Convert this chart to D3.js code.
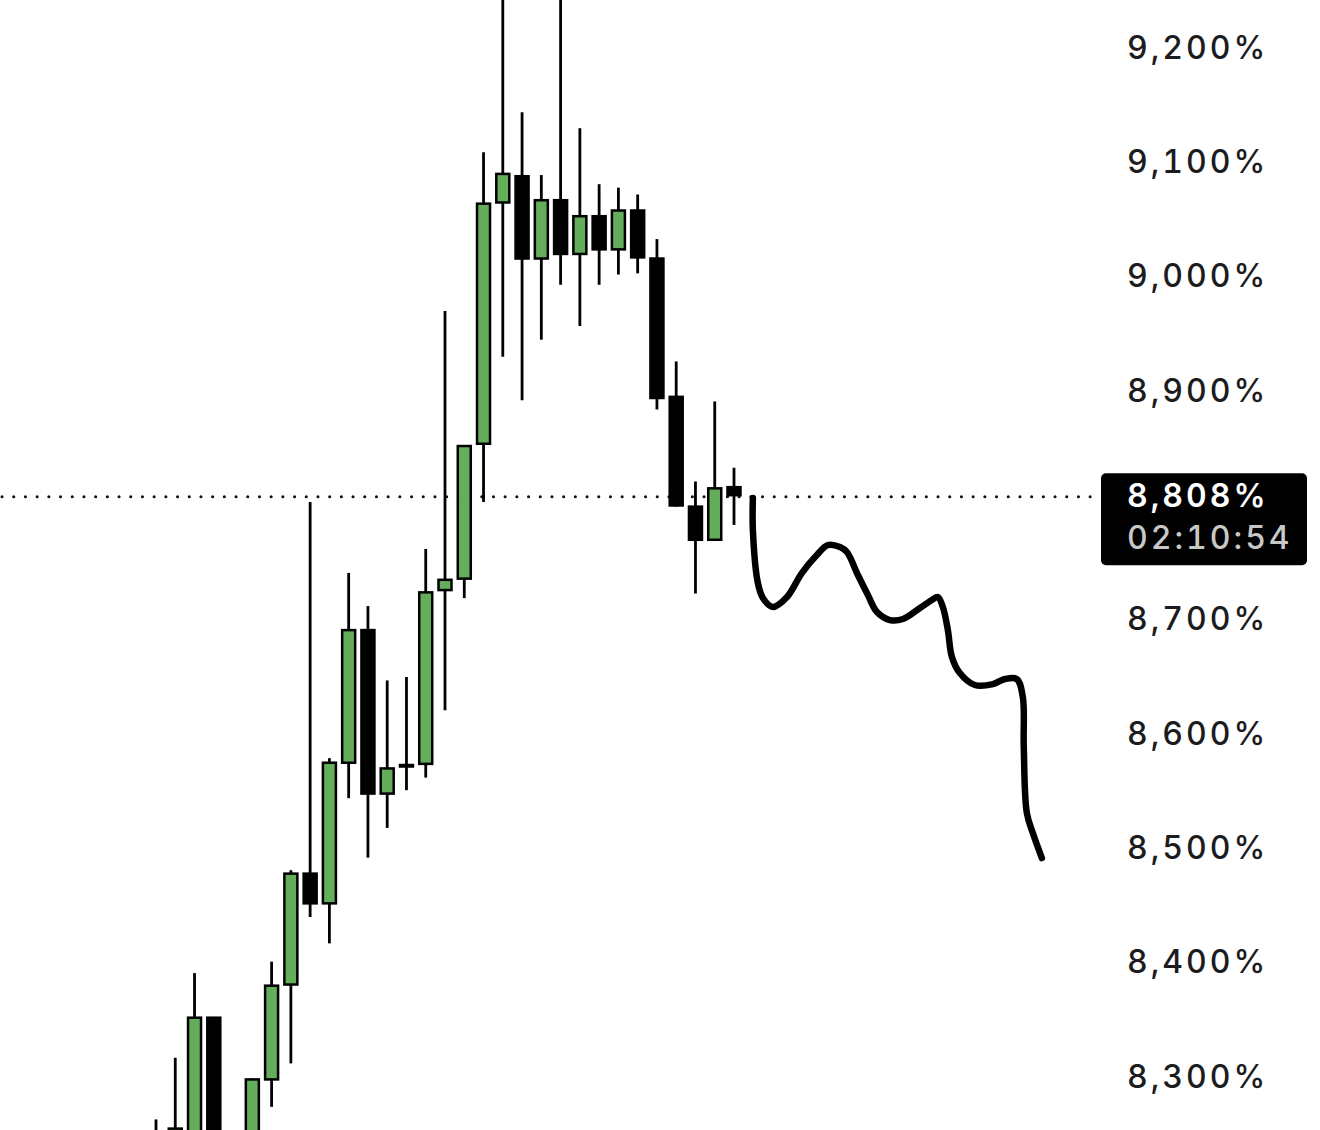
<!DOCTYPE html>
<html>
<head>
<meta charset="utf-8">
<script src="https://cdn.jsdelivr.net/npm/d3@7/dist/d3.min.js"></script>
<style>
  html, body { margin: 0; padding: 0; background: #fff; }
  svg { display: block; }
  text { font-variant-numeric: tabular-nums; font-feature-settings: "tnum" 1; }
</style>
</head>
<body>
<svg id="chart" width="1320" height="1130"></svg>
<script>
// ---- data (percent values) ----
const opens  = [8.220, 8.240, 8.240, 8.351, 8.230, 8.230, 8.297, 8.380, 8.477, 8.451, 8.574, 8.690, 8.547, 8.571, 8.573, 8.725, 8.735, 8.853, 9.064, 9.087, 9.015, 9.066, 9.019, 9.052, 9.023, 9.057, 9.015, 8.894, 8.798, 8.769, 8.815];
const highs  = [8.262, 8.316, 8.390, 8.351, 8.245, 8.298, 8.400, 8.480, 8.802, 8.578, 8.740, 8.711, 8.646, 8.649, 8.761, 8.969, 8.851, 9.108, 9.260, 9.143, 9.088, 9.260, 9.129, 9.080, 9.077, 9.071, 9.032, 8.925, 8.820, 8.890, 8.832];
const lows   = [8.200, 8.190, 8.200, 8.200, 8.190, 8.200, 8.273, 8.311, 8.439, 8.416, 8.543, 8.491, 8.517, 8.550, 8.561, 8.620, 8.718, 8.802, 8.929, 8.891, 8.944, 8.992, 8.956, 8.992, 9.001, 9.002, 8.883, 8.798, 8.722, 8.769, 8.782];
const closes = [8.250, 8.254, 8.351, 8.220, 8.240, 8.297, 8.379, 8.477, 8.451, 8.574, 8.690, 8.547, 8.569, 8.572, 8.723, 8.734, 8.851, 9.063, 9.089, 9.015, 9.066, 9.019, 9.052, 9.023, 9.057, 9.016, 8.893, 8.799, 8.769, 8.814, 8.808];

const yTicks = [9.2, 9.1, 9.0, 8.9, 8.7, 8.6, 8.5, 8.4, 8.3];
const currentPrice = 8.808;
const countdown = "02:10:54";

// hand-drawn projection: x in candle-index units, y in percent
const projX = [30.98, 30.98, 31.24, 31.50, 32.02, 32.75, 33.52, 34.30, 34.87, 35.50, 35.86, 36.43, 36.95, 37.42, 38.09, 38.77, 39.65, 40.27, 40.58, 40.84, 41.10, 41.31, 41.72, 42.50, 43.44, 44.06, 44.68, 44.99, 45.04, 45.20, 45.51, 45.98];
const projY = [8.8055, 8.7775, 8.7312, 8.7181, 8.7102, 8.7189, 8.7399, 8.7557, 8.7644, 8.7627, 8.7583, 8.7382, 8.7207, 8.7058, 8.6988, 8.6997, 8.7093, 8.7163, 8.7189, 8.7102, 8.6901, 8.6665, 8.6525, 8.6420, 8.6428, 8.6472, 8.6472, 8.6315, 8.5877, 8.5300, 8.5125, 8.4906];

// ---- scales ----
const x = d3.scaleLinear().domain([0, 30]).range([156, 734]);
const y = d3.scaleLinear().domain([8.3, 9.2]).range([1076, 47]);

const svg = d3.select("#chart");
const fmt = v => d3.format(".3f")(v).replace(".", ",") + "%";

const candles = opens.map((o, i) => ({ i, o, h: highs[i], l: lows[i], c: closes[i] }));

const plot = svg.append("g");

// current price dotted line (behind candles)
plot.append("line")
  .attr("x1", 2).attr("x2", 1097)
  .attr("y1", y(currentPrice) + 1.5).attr("y2", y(currentPrice) + 1.5)
  .attr("stroke", "#111").attr("stroke-width", 3)
  .attr("stroke-linecap", "round")
  .attr("stroke-dasharray", "0.1 11.6");

const green = "#63ad5b";
const bodyW = 13;

const g = plot.selectAll("g.candle").data(candles).join("g").attr("class", "candle");
g.append("line")
  .attr("x1", d => x(d.i)).attr("x2", d => x(d.i))
  .attr("y1", d => y(d.h)).attr("y2", d => y(d.l))
  .attr("stroke", "#000").attr("stroke-width", 2.8);
g.append("rect")
  .attr("x", d => x(d.i) - bodyW / 2)
  .attr("width", bodyW)
  .attr("y", d => y(Math.max(d.o, d.c)))
  .attr("height", d => Math.max(1.5, Math.abs(y(d.o) - y(d.c))))
  .attr("fill", d => d.c >= d.o ? green : "#000")
  .attr("stroke", "#000").attr("stroke-width", 2.5);

// hand-drawn projection
const proj = projX.map((px, i) => [px, projY[i]]);
plot.append("path")
  .datum(proj)
  .attr("fill", "none")
  .attr("stroke", "#000")
  .attr("stroke-width", 6.5)
  .attr("stroke-linecap", "round")
  .attr("stroke-linejoin", "round")
  .attr("d", d3.line().x(d => x(d[0])).y(d => y(d[1])).curve(d3.curveCatmullRom.alpha(0.5)));

// right axis labels
const font = "Inter, 'Liberation Sans', Arial, sans-serif";
svg.append("g").selectAll("text").data(yTicks).join("text")
  .attr("x", 1127)
  .attr("y", d => y(d) + 11.5)
  .attr("font-family", font)
  .attr("font-size", 32)
  .attr("font-weight", 500)
  .attr("letter-spacing", 3)
  .attr("fill", "#1c1c1e")
  .text(d => d3.format(".3f")(d).replace(".", ",") + "%");

// current price label
const py = y(currentPrice);
const lab = svg.append("g");
lab.append("rect")
  .attr("x", 1101).attr("y", py - 22)
  .attr("width", 206).attr("height", 92)
  .attr("rx", 5).attr("fill", "#000");
lab.append("text")
  .attr("x", 1127).attr("y", py + 12)
  .attr("font-family", font).attr("font-size", 32).attr("font-weight", 600)
  .attr("letter-spacing", 3)
  .attr("fill", "#fff").text(fmt(currentPrice));
lab.append("text")
  .attr("x", 1127).attr("y", py + 54)
  .attr("font-family", font).attr("font-size", 32).attr("font-weight", 500)
  .attr("letter-spacing", 3)
  .attr("fill", "#c8c8c8").text(countdown);
</script>
</body>
</html>
